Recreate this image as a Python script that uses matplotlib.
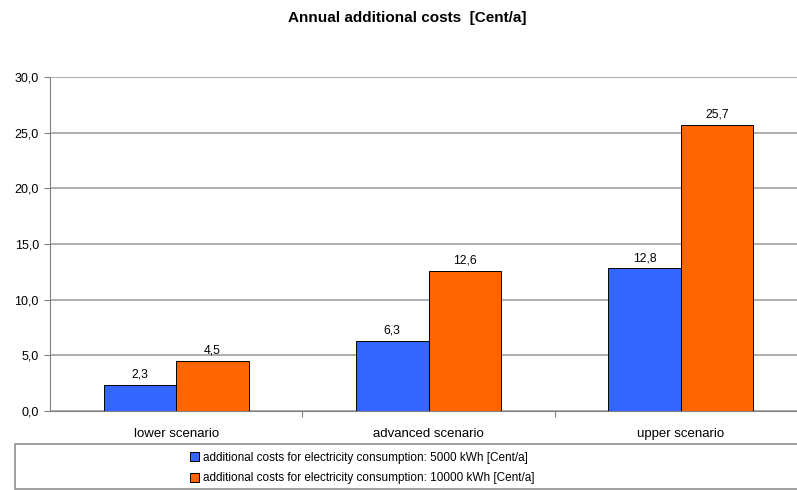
import matplotlib.pyplot as plt
import numpy as np
from matplotlib.patches import Rectangle
from matplotlib.ticker import FuncFormatter, FixedLocator

plt.rcParams['font.family'] = ['Liberation Sans', 'DejaVu Sans']

scenarios = ['lower scenario', 'advanced scenario', 'upper scenario']
cost_5000 = [2.3, 6.3, 12.8]
cost_10000 = [4.5, 12.6, 25.7]
series_names = ['additional costs for electricity consumption: 5000 kWh [Cent/a]',
                'additional costs for electricity consumption: 10000 kWh [Cent/a]']

fig = plt.figure(figsize=(7.97, 4.9), dpi=100)
ax = fig.add_axes([50/797, 1 - 411/490, 757/797, 334/490])

x = np.arange(len(scenarios))
w = 0.287
b1 = ax.bar(x - w/2, cost_5000, w, color='#3366FF', edgecolor='black', linewidth=0.7,
            label=series_names[0], zorder=3)
b2 = ax.bar(x + w/2, cost_10000, w, color='#FF6600', edgecolor='black', linewidth=0.7,
            label=series_names[1], zorder=3)

comma = lambda v: f'{v:.1f}'.replace('.', ',')
for bars in (b1, b2):
    for r in bars:
        ax.text(r.get_x() + r.get_width()/2, r.get_height() + 0.4, comma(r.get_height()),
                ha='center', va='bottom', fontsize=8.7)

ax.set_ylim(0, 30)
ax.set_xlim(-0.5, 2.5)
ax.set_yticks(np.arange(0, 31, 5))
ax.yaxis.set_major_formatter(FuncFormatter(lambda v, p: comma(v)))
ax.yaxis.grid(True, color='#a0a0a0', linewidth=1.2, zorder=0)
ax.tick_params(axis='y', labelsize=9, length=4, color='#808080', pad=4)

ax.xaxis.set_major_locator(FixedLocator([0.5, 1.5]))
ax.xaxis.set_minor_locator(FixedLocator(x))
ax.xaxis.set_minor_formatter(FuncFormatter(lambda v, p: scenarios[int(round(v))]))
ax.tick_params(axis='x', which='major', labelbottom=False, length=4, color='#808080')
ax.tick_params(axis='x', which='minor', length=0, labelsize=9.5, pad=12)

for s in ('top', 'right'):
    ax.spines[s].set_visible(False)
ax.spines['left'].set_color('#808080')
ax.spines['bottom'].set_color('#808080')

fig.text(407/797, 1 - 18/490, 'Annual additional costs  [Cent/a]', ha='center', va='center',
         fontsize=11, fontweight='bold')

fig.patches.append(Rectangle((15/797, 1 - 489/490), 790/797, 45/490, transform=fig.transFigure,
                             facecolor='white', edgecolor='#909090', linewidth=1.2))
fig.legend(handles=[b1, b2], loc='center', bbox_to_anchor=(362/797, 1 - 468/490),
           frameon=False, fontsize=8.5, handlelength=0.8, handleheight=0.8,
           handletextpad=0.3, labelspacing=0.7, borderaxespad=0)

fig.savefig('out.png', dpi=100)
